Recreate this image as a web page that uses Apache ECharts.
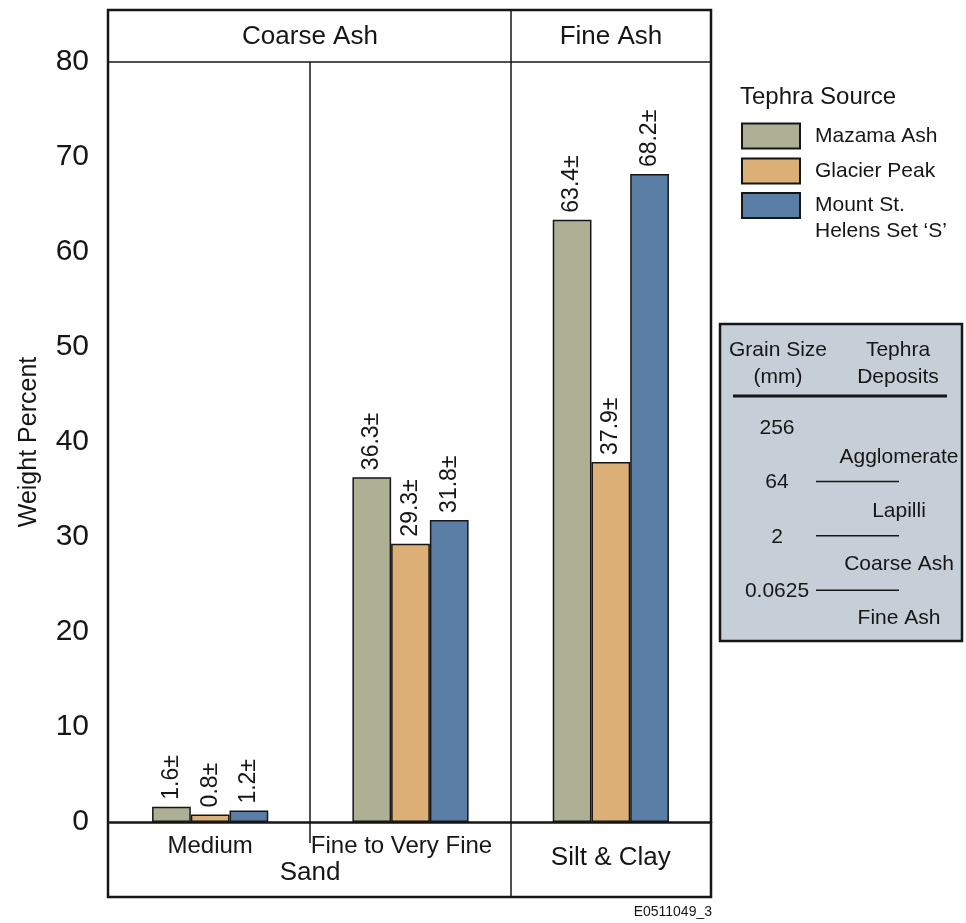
<!DOCTYPE html>
<html><head><meta charset="utf-8">
<script src="https://cdn.jsdelivr.net/npm/echarts@6/dist/echarts.min.js"></script>
<style>html,body{margin:0;padding:0;background:#fff}#c{width:966px;height:923px}</style>
</head><body><div id="c"></div>
<script>
const categories = ['Medium', 'Fine to Very Fine', 'Silt & Clay'];
const mazama = [1.6, 36.3, 63.4];
const glacier = [0.8, 29.3, 37.9];
const msh = [1.2, 31.8, 68.2];
const seriesNames = ['Mazama Ash', 'Glacier Peak', 'Mount St.\nHelens Set \u2018S\u2019'];
const seriesColors = ['#adb095', '#dbaf76', '#5a7ea5'];
const yMin = 0, yMax = 80, yStep = 10;
const grainSizes = ['256', '64', '2', '0.0625'];
const deposits = ['Agglomerate', 'Lapilli', 'Coarse Ash', 'Fine Ash'];

const FF = "'Liberation Sans',Arial,sans-serif";
const INK = '#161616';

function bar(name, data, color) {
  return {
    type: 'bar', name: name, data: data,
    barGap: '0%', barCategoryGap: '42%',
    itemStyle: { color: color, borderColor: INK, borderWidth: 1.5 },
    label: {
      show: true, position: 'top', rotate: 90, align: 'left', verticalAlign: 'middle',
      distance: 7, formatter: p => p.value.toFixed(1) + '\u00b1',
      fontSize: 23, color: INK, fontFamily: FF
    }
  };
}

const chart = echarts.init(document.getElementById('c'), null, { renderer: 'canvas' });

const graphics = [];
function txt(t, x, y, size, align, lh) {
  graphics.push({ type: 'text', silent: true, style: { text: t, x: x, y: y, fontSize: size, fontFamily: FF, fill: INK, align: align || 'center', verticalAlign: 'middle', lineHeight: lh || undefined } });
}
function ln(x1, y1, x2, y2, w) {
  graphics.push({ type: 'line', silent: true, shape: { x1: x1, y1: y1, x2: x2, y2: y2 }, style: { stroke: INK, lineWidth: w } });
}
// frame
graphics.push({ type: 'rect', silent: true, shape: { x: 108, y: 10, width: 603, height: 887 }, style: { fill: 'none', stroke: INK, lineWidth: 2.5 } });
ln(108, 62, 711, 62, 1.5);
ln(511, 10, 511, 897, 1.5);
ln(310, 62, 310, 843, 1.5);
txt('Coarse Ash', 310, 37, 26);
txt('Fine Ash', 611, 37, 26);
txt('Sand', 310, 873, 26);
txt('E0511049_3', 712, 912, 14, 'right');
txt('Tephra Source', 740, 97, 24, 'left');
// grain size table
graphics.push({ type: 'rect', silent: true, shape: { x: 720, y: 324, width: 242, height: 317 }, style: { fill: '#c6cfd7', stroke: INK, lineWidth: 2.5 } });
txt('Grain Size\n(mm)', 778, 364, 21, 'center', 27);
txt('Tephra\nDeposits', 898, 364, 21, 'center', 27);
ln(733, 396, 947, 396, 3);
grainSizes.forEach((s, i) => {
  const y = 428 + i * 54.4;
  txt(s, 777, y, 21);
  if (i > 0) ln(816, y - 1, 899, y - 1, 1.5);
});
deposits.forEach((d, i) => {
  txt(d, 899, 457 + i * 53.8, 21);
});

const legendText = { fontSize: 21, color: INK, fontFamily: FF, padding: [0, 0, 0, 10], lineHeight: 26 };
const legendBase = {
  orient: 'vertical', left: 741, padding: 0,
  itemWidth: 58, itemHeight: 25, itemGap: 8, icon: 'rect',
  textStyle: legendText
};

chart.setOption({
  animation: false,
  backgroundColor: '#fff',
  textStyle: { fontFamily: FF },
  grid: { left: 110, right: 255, top: 62, bottom: 101, containLabel: false },
  legend: [
    Object.assign({}, legendBase, { top: 122.5, data: seriesNames.slice(0, 2) }),
    Object.assign({}, legendBase, {
      top: 166.5,
      formatter: name => '\n' + name,
      data: seriesNames.slice(2)
    })
  ],
  xAxis: {
    type: 'category', data: categories,
    axisTick: { show: false },
    axisLine: { lineStyle: { color: INK, width: 2.5 } },
    axisLabel: {
      interval: 0, margin: 12, color: INK, fontSize: 24, fontFamily: FF,
      formatter: (v, i) => i === 2 ? '{c|' + v + '}' : (i === 1 ? '{b|' + v + '}' : '{a|' + v + '}'),
      rich: {
        a: { fontSize: 24, fontFamily: FF, color: INK },
        b: { fontSize: 24, fontFamily: FF, color: INK, padding: [0, 18, 0, 0] },
        c: { fontSize: 26, fontFamily: FF, color: INK, padding: [11, 0, 0, 0] }
      }
    }
  },
  yAxis: {
    type: 'value', min: yMin, max: yMax, interval: yStep,
    axisLine: { show: false }, axisTick: { show: false }, splitLine: { show: false },
    axisLabel: { margin: 21, color: INK, fontSize: 30, fontFamily: FF },
    name: 'Weight Percent', nameLocation: 'middle', nameGap: 68, nameRotate: 90,
    nameTextStyle: { fontSize: 25, color: INK, fontFamily: FF }
  },
  series: [
    bar(seriesNames[0], mazama, seriesColors[0]),
    bar(seriesNames[1], glacier, seriesColors[1]),
    bar(seriesNames[2], msh, seriesColors[2])
  ],
  graphic: graphics
});
</script></body></html>
